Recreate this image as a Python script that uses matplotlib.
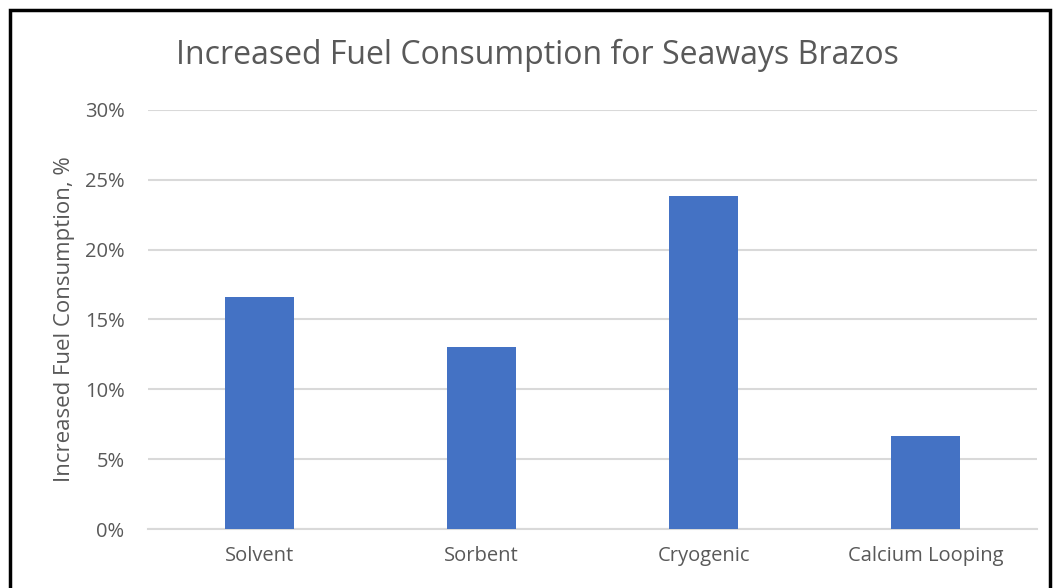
import matplotlib.pyplot as plt
from matplotlib.patches import Rectangle
from matplotlib.ticker import PercentFormatter

categories = ['Solvent', 'Sorbent', 'Cryogenic', 'Calcium Looping']
fuel_increase = [0.166, 0.130, 0.2385, 0.0665]
y_ticks = [0.0, 0.05, 0.10, 0.15, 0.20, 0.25, 0.30]

plt.rcParams['font.family'] = ['Open Sans', 'DejaVu Sans']
grey = '#595959'

fig = plt.figure(figsize=(10.58, 5.88), dpi=100)
ax = fig.add_axes([0.14, 0.1003, 0.84, 0.7127])

x = list(range(len(categories)))
ax.bar(x, fuel_increase, width=0.31, color='#4472C4', zorder=3)

ax.set_xlim(-0.5, len(categories) - 0.5)
ax.set_ylim(0, 0.30)
ax.set_yticks(y_ticks)
ax.yaxis.set_major_formatter(PercentFormatter(1.0, decimals=0))
ax.set_xticks(x, categories)
ax.grid(axis='y', color='#d9d9d9', linewidth=1.5, zorder=0)
for s in ['top', 'right', 'left']:
    ax.spines[s].set_visible(False)
ax.spines['bottom'].set_color('#d9d9d9')
ax.spines['bottom'].set_linewidth(1.5)
ax.tick_params(length=0, colors=grey, labelsize=14.5, pad=12)
ax.tick_params(axis='y', pad=17)

ax.set_ylabel('Increased Fuel Consumption, %', fontsize=16, color=grey, labelpad=7)
fig.text(0.508, 0.905, 'Increased Fuel Consumption for Seaways Brazos',
         ha='center', va='center', fontsize=23, color=grey)

# black frame around the chart (bottom edge runs off the picture)
fig.patches.append(Rectangle((10 / 1058, -0.05), 1040 / 1058, 1.05 - 10 / 588,
                             transform=fig.transFigure, fill=False,
                             edgecolor='black', linewidth=2.5))

plt.savefig('out.png', format='png')
